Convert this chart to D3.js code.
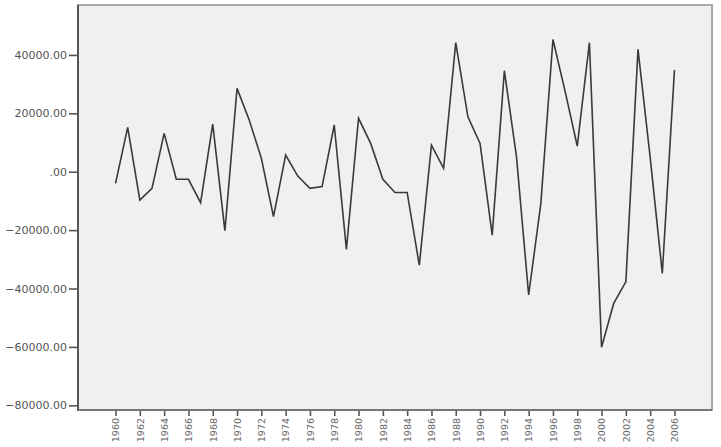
<!DOCTYPE html>
<html>
<head>
<meta charset="utf-8">
<script src="https://cdn.jsdelivr.net/npm/d3@7"></script>
<style>
  html, body { margin: 0; padding: 0; background: #ffffff; }
  svg { display: block; }
</style>
</head>
<body>
<svg id="chart" width="721" height="447"></svg>
<script>
// ---- data ----
const categories = d3.range(1960, 2007).map(String);
const values = [
  -4000, 15200, -9700, -5700, 13150, -2600, -2600, -10600, 16300, -20200,
  28550, 17700, 4600, -15400, 5700, -1500, -5700, -5100, 16000, -26600,
  18300, 9700, -2600, -7100, -7100, -32000, 9100, 1150, 44200, 18800,
  9700, -21700, 34600, 5100, -42200, -11000, 45300, 27500, 8800, 44200,
  -60100, -45100, -37700, 41900, 5000, -34800, 34800
];
const yTicks = [-80000, -60000, -40000, -20000, 0, 20000, 40000];
const tickLabels = categories.filter((d, i) => i % 2 === 0);

// ---- layout ----
const svg = d3.select("#chart");
const mLeft = 78, mRight = 712, mTop = 5, mBottom = 410;

const x = d3.scalePoint().domain(categories).range([mLeft, mRight]).padding(3.09);
const y = d3.scaleLinear().domain([-81600, 57100]).range([mBottom, mTop]);

// plot background
svg.append("rect")
  .attr("x", mLeft).attr("y", mTop)
  .attr("width", mRight - mLeft).attr("height", mBottom - mTop)
  .attr("fill", "#f0f0f0")
  .attr("stroke", "#a8a8a8").attr("stroke-width", 2);

// y axis
const fmt = v => { let s = d3.format(".2f")(v); return s.replace(/^(-?)0\./, "$1."); };
const yAxis = svg.append("g")
  .attr("transform", `translate(${mLeft},0)`)
  .call(d3.axisLeft(y).tickValues(yTicks).tickFormat(fmt).tickSize(9).tickPadding(2));
yAxis.select(".domain").remove();
yAxis.selectAll(".tick line").attr("stroke", "#555").attr("stroke-width", 1.6);
yAxis.selectAll("text")
  .attr("fill", "#555")
  .style("font-family", "DejaVu Sans, sans-serif")
  .style("font-size", "11px");

// x axis
const xAxis = svg.append("g")
  .attr("transform", `translate(0,${mBottom})`)
  .call(d3.axisBottom(x).tickValues(tickLabels).tickSize(6).tickPadding(3));
xAxis.select(".domain").remove();
xAxis.selectAll(".tick line").attr("stroke", "#555").attr("stroke-width", 1.6);
xAxis.selectAll("text")
  .attr("fill", "#666")
  .style("font-family", "DejaVu Sans, sans-serif")
  .style("font-size", "9.5px")
  .attr("transform", "rotate(-90)")
  .attr("text-anchor", "end")
  .attr("dy", "0.35em")
  .attr("x", -8)
  .attr("y", 0);

// axis lines
svg.append("line")
  .attr("x1", mLeft).attr("x2", mLeft).attr("y1", mTop).attr("y2", mBottom + 1)
  .attr("stroke", "#555").attr("stroke-width", 2);
svg.append("line")
  .attr("x1", mLeft).attr("x2", mRight).attr("y1", mBottom).attr("y2", mBottom)
  .attr("stroke", "#777").attr("stroke-width", 2);

// series line
const line = d3.line()
  .x((d, i) => x(categories[i]))
  .y(d => y(d));
svg.append("path")
  .datum(values)
  .attr("d", line)
  .attr("fill", "none")
  .attr("stroke", "#3a3a3a")
  .attr("stroke-width", 1.6)
  .attr("stroke-linejoin", "miter");
</script>
</body>
</html>
